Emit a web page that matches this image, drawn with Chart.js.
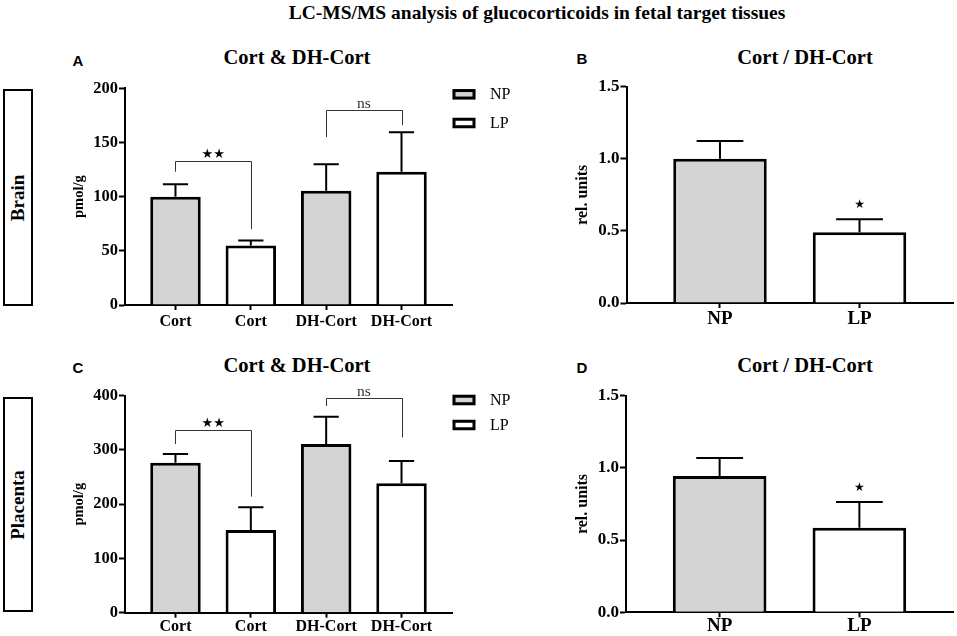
<!DOCTYPE html>
<html>
<head>
<meta charset="utf-8">
<script src="https://cdn.jsdelivr.net/npm/chart.js@4.4.1/dist/chart.umd.min.js"></script>
<style>
  body { margin: 0; background: #fff; font-family: "Liberation Serif", "Times New Roman", serif; }
  #page { position: relative; width: 957px; height: 636px; overflow: hidden; }
  .t { position: absolute; transform: translate(-50%, -50%); white-space: nowrap; font-weight: bold; color: #000; }
  .letter { font-family: "Liberation Sans", Arial, sans-serif; font-size: 15px; }
  .side { position: absolute; box-sizing: border-box; border: 2px solid #000; background: #fff; }
  .side span { position: absolute; left: 50%; top: 50%; transform: translate(-50%, -50%) rotate(-90deg);
    font-weight: bold; font-size: 19px; white-space: nowrap; }
  .panel { position: absolute; }
</style>
</head>
<body>
<div id="page">
  <div class="t" style="left:537px; top:13px; font-size:19.5px;">LC-MS/MS analysis of glucocorticoids in fetal target tissues</div>

  <div class="t letter" style="left:78px; top:60px;">A</div>
  <div class="t" style="left:297px; top:57px; font-size:20.5px;">Cort &amp; DH-Cort</div>
  <div class="t letter" style="left:582px; top:58px;">B</div>
  <div class="t" style="left:805px; top:57px; font-size:20.5px;">Cort / DH-Cort</div>
  <div class="t letter" style="left:78px; top:367px;">C</div>
  <div class="t" style="left:297px; top:365px; font-size:20.5px;">Cort &amp; DH-Cort</div>
  <div class="t letter" style="left:582px; top:367px;">D</div>
  <div class="t" style="left:805px; top:365px; font-size:20.5px;">Cort / DH-Cort</div>

  <div class="side" style="left:3px; top:89px; width:30px; height:217px;"><span>Brain</span></div>
  <div class="side" style="left:3px; top:397px; width:30px; height:215px;"><span>Placenta</span></div>

  <div class="panel" style="left:40px; top:30px;"><canvas id="chartA" width="480" height="310"></canvas></div>
  <div class="panel" style="left:530px; top:30px;"><canvas id="chartB" width="427" height="310"></canvas></div>
  <div class="panel" style="left:40px; top:330px;"><canvas id="chartC" width="480" height="306"></canvas></div>
  <div class="panel" style="left:530px; top:330px;"><canvas id="chartD" width="427" height="306"></canvas></div>
</div>

<script>
// categories and groups
const tissueCats = ['Cort', 'Cort', 'DH-Cort', 'DH-Cort'];
const tissueGroups = ['NP', 'LP', 'NP', 'LP'];
const ratioCats = ['NP', 'LP'];

// brain, pmol/g (mean and upward error)
const brainValues = [100, 55, 105.5, 123];
const brainErrors = [11.5, 4.5, 24.5, 36.5];
const brainTicks = [0, 50, 100, 150, 200];

// placenta, pmol/g
const placentaValues = [276.5, 152.5, 311, 238.5];
const placentaErrors = [16, 42, 50, 41];
const placentaTicks = [0, 100, 200, 300, 400];

// Cort / DH-Cort ratio, rel. units
const brainRatio = [1.0, 0.49];
const brainRatioErr = [0.123, 0.09];
const placentaRatio = [0.944, 0.586];
const placentaRatioErr = [0.125, 0.177];
const ratioTicks = [0, 0.5, 1.0, 1.5];
const ratioSignif = ['', '★'];

// comparison brackets: [fromIdx, toIdx, bar level, left leg end, right leg end, label]
const brainBrackets = [
  [0, 1, 133, 123, 70, '★★'],
  [2, 3, 180, 155, 166, 'ns']
];
const placentaBrackets = [
  [0, 1, 336, 311, 214, '★★'],
  [2, 3, 396, 381, 323, 'ns']
];

const NP_FILL = '#d4d4d4';
const LP_FILL = '#ffffff';

Chart.defaults.font.family = '"Liberation Serif", "Times New Roman", serif';
Chart.defaults.color = '#000';

// error bars + brackets + stars
const annotations = {
  id: 'annotations',
  afterDatasetsDraw(chart, args, opts) {
    const { ctx } = chart;
    const ys = chart.scales.y, xs = chart.scales.x;
    const ds = chart.data.datasets[0];
    const meta = chart.getDatasetMeta(0);
    ctx.save();
    meta.data.forEach((bar, i) => {
      const top = ys.getPixelForValue(ds.data[i].y + ds.errors[i]);
      const half = bar.width / 4;
      ctx.strokeStyle = '#000';
      ctx.lineWidth = 2;
      ctx.beginPath();
      ctx.moveTo(bar.x, bar.y);
      ctx.lineTo(bar.x, top);
      ctx.moveTo(bar.x - half, top);
      ctx.lineTo(bar.x + half, top);
      ctx.stroke();
      if (opts.signif && opts.signif[i]) {
        ctx.fillStyle = '#000';
        ctx.font = '12px "DejaVu Sans"';
        ctx.textAlign = 'center';
        ctx.textBaseline = 'middle';
        ctx.fillText(opts.signif[i], bar.x, top - 14);
      }
    });
    (opts.brackets || []).forEach(b => {
      const x1 = xs.getPixelForValue(b[0]), x2 = xs.getPixelForValue(b[1]);
      const yTop = Math.round(ys.getPixelForValue(b[2])) + 0.5;
      ctx.strokeStyle = '#333';
      ctx.lineWidth = 1;
      ctx.beginPath();
      ctx.moveTo(Math.round(x1) + 0.5, ys.getPixelForValue(b[3]));
      ctx.lineTo(Math.round(x1) + 0.5, yTop);
      ctx.lineTo(Math.round(x2) + 0.5, yTop);
      ctx.lineTo(Math.round(x2) + 0.5, ys.getPixelForValue(b[4]));
      ctx.stroke();
      ctx.textAlign = 'center';
      ctx.textBaseline = 'middle';
      if (b[5] === 'ns') {
        ctx.fillStyle = '#333';
        ctx.font = '15.5px "Liberation Serif"';
      } else {
        ctx.fillStyle = '#000';
        ctx.font = '13px "DejaVu Sans"';
      }
      ctx.fillText(b[5], (x1 + x2) / 2, yTop - 7);
    });
    ctx.restore();
  }
};

const legendBoxes = {
  id: 'legendBoxes',
  afterDraw(chart, args, opts) {
    if (!opts.rows) return;
    const { ctx, chartArea } = chart;
    ctx.save();
    opts.rows.forEach((r, i) => {
      const cy = chartArea.top + opts.top + i * opts.gap;
      const x = chartArea.right + 0.5;
      ctx.fillStyle = r[1];
      ctx.fillRect(x, cy - 5.25, 23, 10.5);
      ctx.strokeStyle = '#000';
      ctx.lineWidth = 3;
      ctx.strokeRect(x + 1.5, cy - 3.75, 20, 7.5);
      ctx.fillStyle = '#000';
      ctx.font = '16px "Liberation Serif"';
      ctx.textAlign = 'left';
      ctx.textBaseline = 'middle';
      ctx.fillText(r[0], x + 37.5, cy + 0.5);
    });
    ctx.restore();
  }
};

function makePanel(id, p) {
  return new Chart(document.getElementById(id), {
    type: 'bar',
    data: {
      datasets: [{
        data: p.cats.map((c, i) => ({ x: i, y: p.values[i] })),
        errors: p.errors,
        backgroundColor: p.groups.map(g => g === 'NP' ? NP_FILL : LP_FILL),
        borderColor: '#000',
        borderWidth: 3,
        borderSkipped: 'start',
        categoryPercentage: 1,
        barPercentage: 0.67
      }]
    },
    plugins: [annotations, legendBoxes],
    options: {
      responsive: false,
      animation: false,
      events: [],
      layout: { padding: { top: p.padTop, right: p.padRight, left: 0, bottom: 0 } },
      plugins: {
        legend: { display: false },
        tooltip: { enabled: false },
        annotations: { brackets: p.brackets, signif: p.signif },
        legendBoxes: p.legend
      },
      scales: {
        x: {
          type: 'linear',
          z: 1,
          offset: false,
          min: -0.67,
          max: p.cats.length - 1 + 0.67,
          afterBuildTicks: s => { s.ticks = p.cats.map((c, i) => ({ value: i })); },
          afterFit: s => { s.height = p.xHeight; },
          ticks: {
            autoSkip: false, maxRotation: 0,
            callback: (v, i) => p.cats[i],
            font: { size: p.xFont, weight: 'bold', lineHeight: 1 },
            padding: p.xPad
          },
          grid: { drawOnChartArea: false, offset: false, tickLength: 5, tickWidth: 2, tickColor: '#000' },
          border: { color: '#000', width: 2 }
        },
        y: {
          z: 1,
          min: 0,
          max: p.yTicks[p.yTicks.length - 1],
          afterBuildTicks: s => { s.ticks = p.yTicks.map(v => ({ value: v })); },
          afterFit: s => { s.width = p.yWidth; },
          ticks: {
            callback: v => p.yFmt(v),
            font: { size: p.yFont, weight: 'bold', lineHeight: 1 },
            padding: 1
          },
          grid: { drawOnChartArea: false, tickLength: 6, tickWidth: 2, tickColor: '#000' },
          border: { color: '#000', width: 2 },
          title: {
            display: true, text: p.yTitle,
            font: { size: p.yTitleFont, weight: 'bold', lineHeight: 1.2 },
            padding: { top: p.yTitlePad, bottom: 0 }
          }
        }
      }
    }
  });
}

const tissueLegend = [['NP', NP_FILL], ['LP', LP_FILL]];

makePanel('chartA', {
  cats: tissueCats, groups: tissueGroups, values: brainValues, errors: brainErrors,
  yTicks: brainTicks, yFmt: v => String(v), brackets: brainBrackets,
  yTitle: 'pmol/g', yTitleFont: 14.5, yTitlePad: 31,
  padTop: 58.3, padRight: 68, yWidth: 85, xHeight: 35,
  xFont: 16, xPad: 3.5, yFont: 16.5,
  legend: { rows: tissueLegend, top: 6, gap: 28.7 }
});

makePanel('chartB', {
  cats: ratioCats, groups: ratioCats, values: brainRatio, errors: brainRatioErr,
  yTicks: ratioTicks, yFmt: v => v.toFixed(1), signif: ratioSignif,
  yTitle: 'rel. units', yTitleFont: 16, yTitlePad: 43,
  padTop: 56.7, padRight: 4, yWidth: 96.5, xHeight: 37,
  xFont: 19, xPad: 2, yFont: 17,
  legend: {}
});

makePanel('chartC', {
  cats: tissueCats, groups: tissueGroups, values: placentaValues, errors: placentaErrors,
  yTicks: placentaTicks, yFmt: v => String(v), brackets: placentaBrackets,
  yTitle: 'pmol/g', yTitleFont: 14.5, yTitlePad: 31,
  padTop: 65.7, padRight: 68, yWidth: 85, xHeight: 23.3,
  xFont: 16, xPad: 1.3, yFont: 16.5,
  legend: { rows: tissueLegend, top: 4.3, gap: 25 }
});

makePanel('chartD', {
  cats: ratioCats, groups: ratioCats, values: placentaRatio, errors: placentaRatioErr,
  yTicks: ratioTicks, yFmt: v => v.toFixed(1), signif: ratioSignif,
  yTitle: 'rel. units', yTitleFont: 16, yTitlePad: 43,
  padTop: 65.7, padRight: 4, yWidth: 96, xHeight: 23.7,
  xFont: 19, xPad: -1, yFont: 17,
  legend: {}
});
</script>
</body>
</html>
